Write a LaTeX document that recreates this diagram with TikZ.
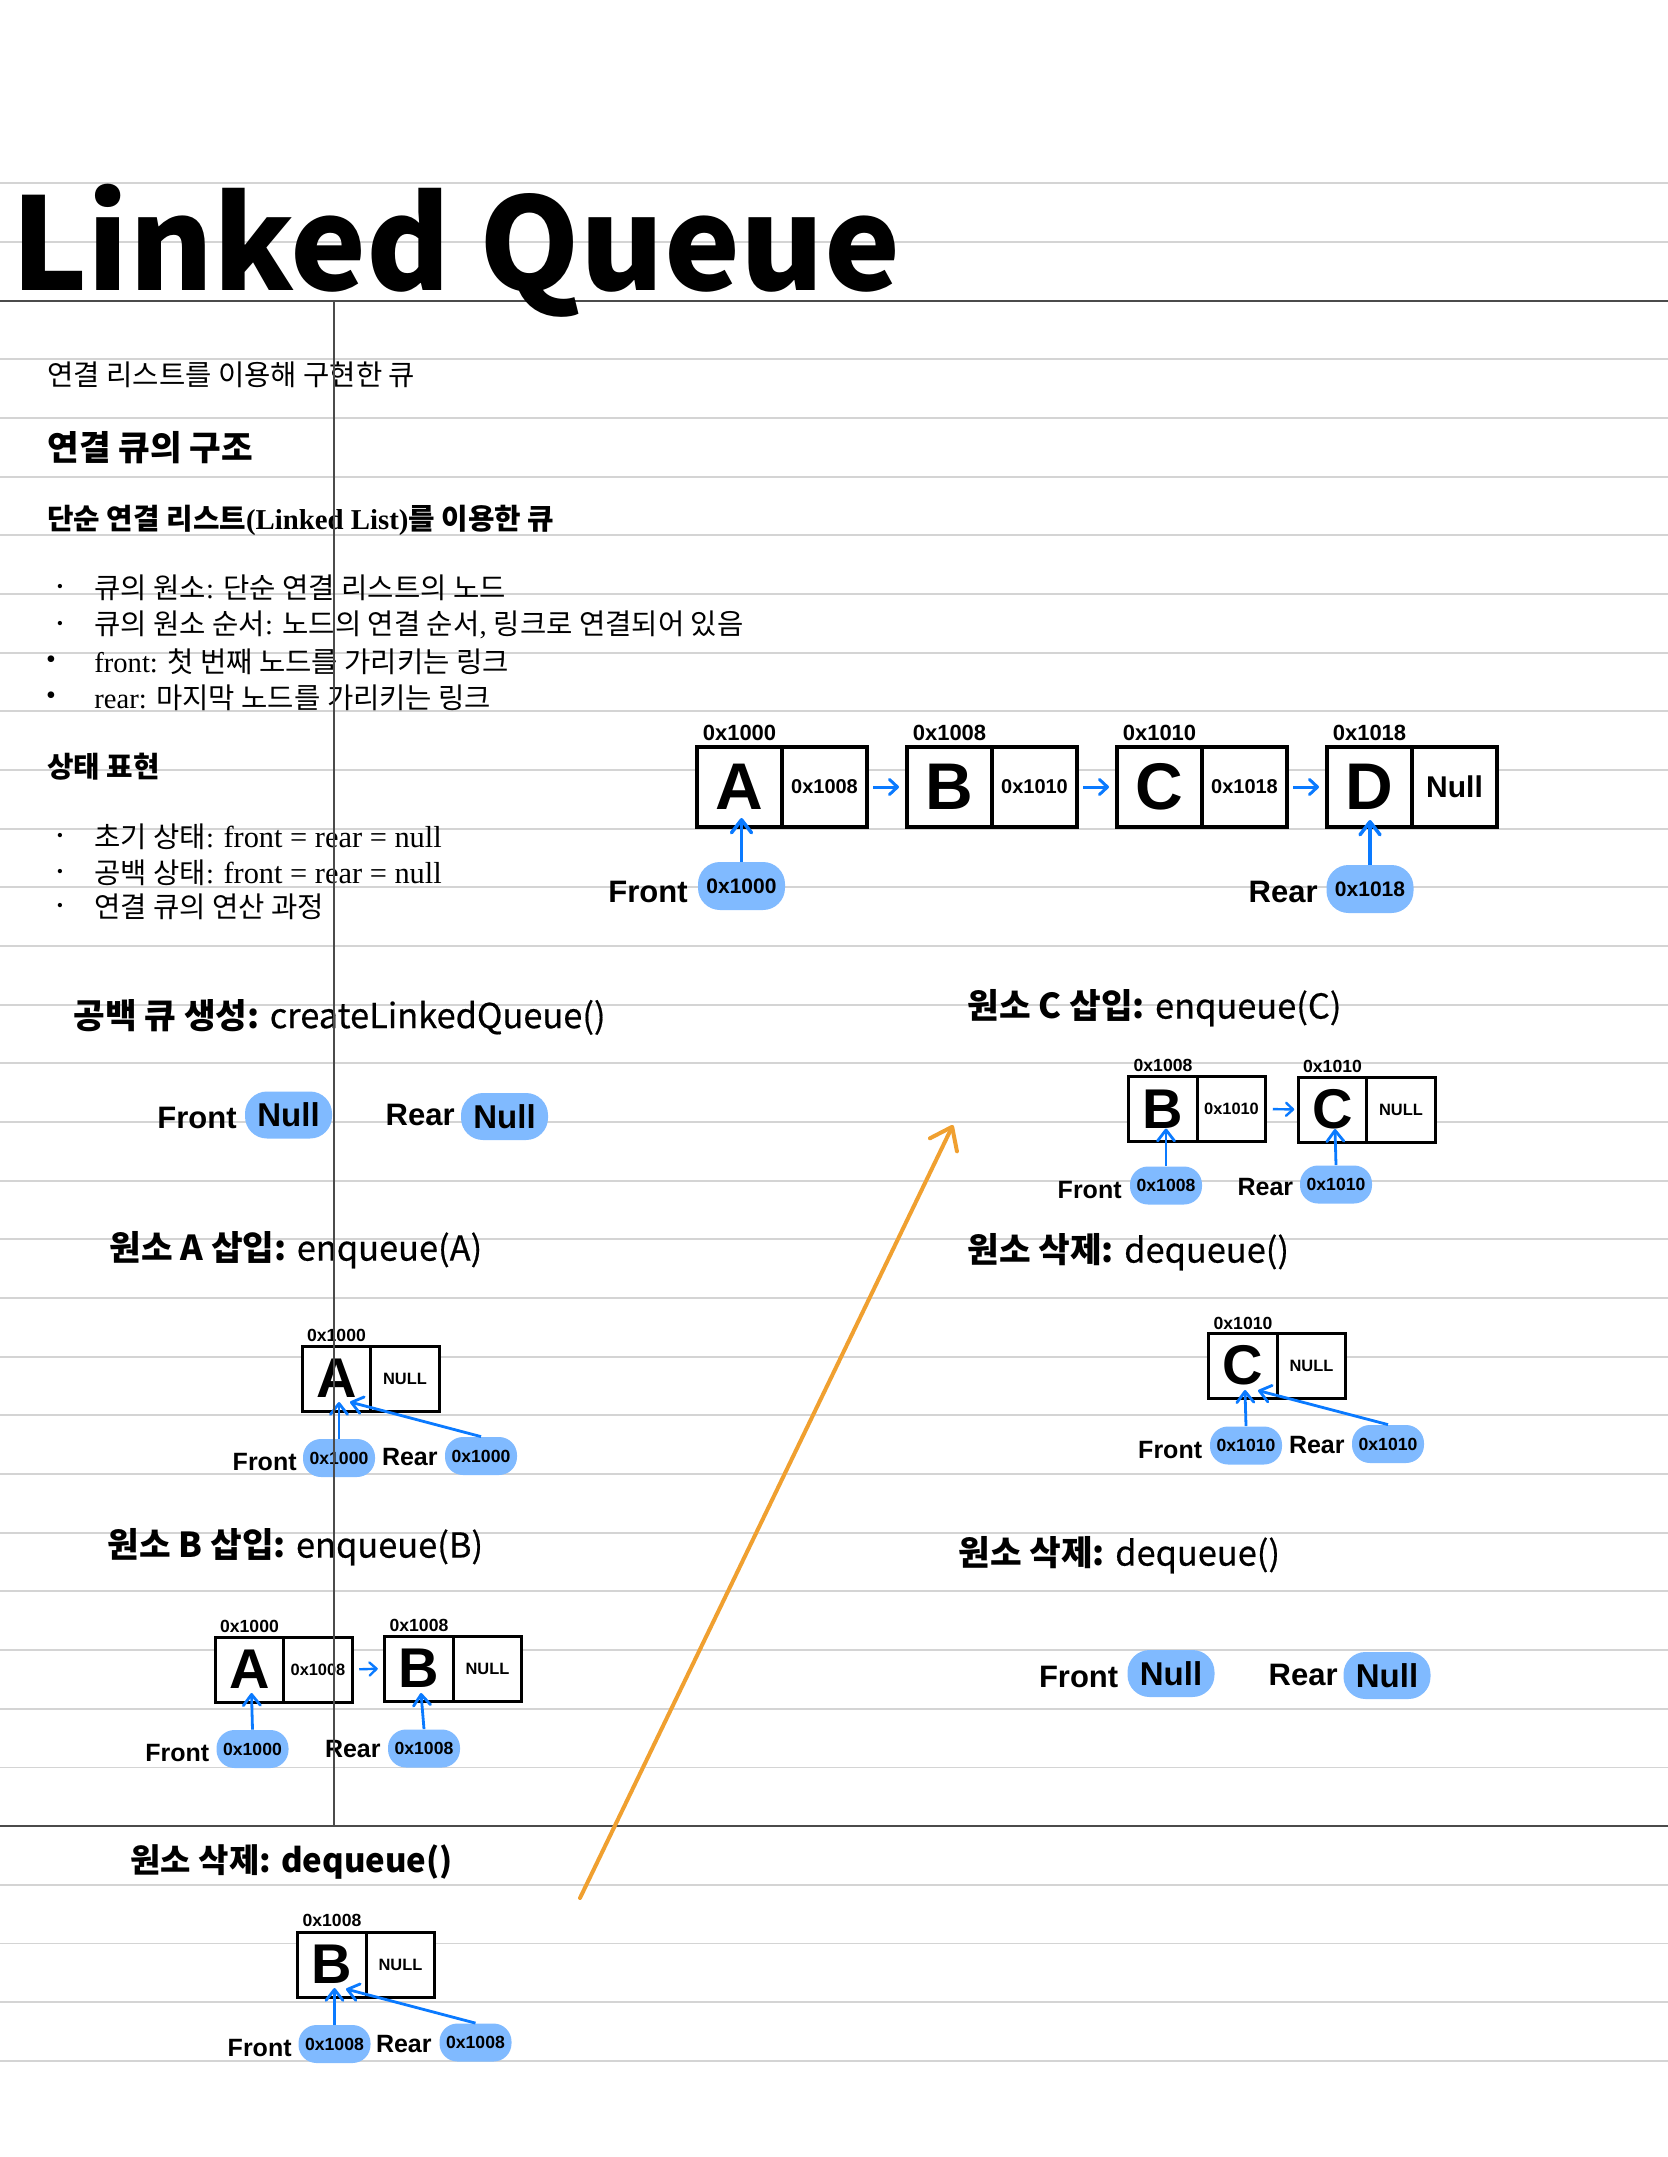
\documentclass[tikz,border=0pt]{standalone}
\usepackage{fontspec}
\setmainfont{Liberation Serif}
\newfontfamily\kr{Noto Sans CJK KR}
\newfontfamily\krm{Noto Sans CJK KR}[FakeBold=0.5]
\newfontfamily\hv{Liberation Sans}
\usetikzlibrary{arrows.meta,calc}
\definecolor{lgray}{RGB}{212,212,212}
\definecolor{dgray}{RGB}{75,75,75}
\definecolor{qblue}{RGB}{10,122,255}
\definecolor{pillblue}{RGB}{128,186,255}
\definecolor{qorange}{RGB}{240,160,48}
\tikzset{
 lrule/.style={draw=lgray, line width=0.9pt},
 drule/.style={draw=dgray, line width=1pt},
 cellM/.style={draw, fill=white, line width=2pt, minimum width=42.5pt, minimum height=40pt, inner sep=0pt, outer sep=0pt},
 cellS/.style={draw, fill=white, line width=1.5pt, minimum width=34.25pt, minimum height=32.5pt, inner sep=0pt, outer sep=0pt},
 letM/.style={cellM, font=\hv\bfseries\fontsize{33}{33}\selectfont},
 letS/.style={cellS, font=\hv\bfseries\fontsize{28}{28}\selectfont},
 ptrM/.style={cellM, anchor=west, font=\hv\bfseries\fontsize{10}{10}\selectfont},
 ptrS/.style={cellS, anchor=west, font=\hv\bfseries\fontsize{8.2}{8.2}\selectfont},
 addrM/.style={font=\hv\bfseries\fontsize{11}{11}\selectfont, inner sep=0pt, anchor=base},
 addrS/.style={font=\hv\bfseries\fontsize{8.8}{8.8}\selectfont, inner sep=0pt, anchor=base},
 pillM/.style={fill=pillblue, rounded corners=11pt, minimum width=43.5pt, minimum height=24pt, inner sep=0pt, font=\hv\bfseries\fontsize{10.5}{10.5}\selectfont},
 pillS/.style={fill=pillblue, rounded corners=9pt, minimum width=36pt, minimum height=19pt, inner sep=0pt, font=\hv\bfseries\fontsize{8.8}{8.8}\selectfont},
 pillN/.style={fill=pillblue, rounded corners=11pt, minimum width=43.5pt, minimum height=23.5pt, inner sep=0pt, font=\hv\bfseries\fontsize{16.5}{16.5}\selectfont},
 lblM/.style={font=\hv\bfseries\fontsize{15.5}{15.5}\selectfont, inner sep=0pt, anchor=east},
 lblS/.style={font=\hv\bfseries\fontsize{12.5}{12.5}\selectfont, inner sep=0pt, anchor=east},
 barrM/.style={draw=qblue, line width=1.75pt, -{Straight Barb[length=6.5pt,width=10pt,round]}},
 barrS/.style={draw=qblue, line width=1.4pt, -{Straight Barb[length=5.5pt,width=8.5pt,round]}},
 linkM/.style={draw=qblue, line width=1.5pt, -{Straight Barb[length=4pt,width=7.5pt,round]}},
 linkS/.style={draw=qblue, line width=1.2pt, -{Straight Barb[length=3.5pt,width=6.5pt,round]}},
 orarr/.style={draw=qorange, line width=2pt, line cap=round, -{Straight Barb[length=10pt,width=15pt,round]}},
 txt/.style={anchor=west, inner sep=0pt, font=\fontsize{14.3}{16}\selectfont},
 txtb/.style={anchor=west, inner sep=0pt, font=\kr\bfseries\fontsize{17.2}{20}\selectfont},
 txtc/.style={anchor=west, inner sep=0pt, font=\fontsize{14.4}{16}\selectfont},
 hd/.style={anchor=west, inner sep=0pt, font=\krm\fontsize{17.2}{20}\selectfont},
 bsm/.style={inner sep=0pt, font=\fontsize{9}{9}\selectfont},
 blg/.style={inner sep=0pt, font=\fontsize{14}{14}\selectfont},
}
\begin{document}
\begin{tikzpicture}[x=0.5pt,y=-0.5pt]
\useasboundingbox (0,0) rectangle (1668,2157);
\fill[white] (0,0) rectangle (1668,2157);
\foreach \k in {0,...,32}{\draw[lrule] (0,{183.3+\k*58.67}) -- (1668,{183.3+\k*58.67});}
\draw[drule] (0,301) -- (1668,301);
\draw[drule] (0,1826) -- (1668,1826);

% title
\node[anchor=base west, inner sep=0pt, font=\kr\bfseries\fontsize{64}{64}\selectfont] (title) at (11,290) {Linked Queue};

% intro text
\node[txt] (t1) at (47,375) {\kr 연결 리스트를 이용해 구현한 큐};
\node[txtb] (t2) at (47,448) {연결 큐의 구조};
\node[txtc] (t3) at (47,520) {{\kr\bfseries 단순 연결 리스트}\textbf{(Linked List)}{\kr\bfseries 를 이용한 큐}};
\node[bsm] (b1) at (60,588) {•};
\node[bsm] (b2) at (60,625) {•};
\node[blg] (b3) at (51,662) {•};
\node[blg] (b4) at (51,698) {•};
\node[txt] (l1) at (94,588) {{\kr 큐의 원소}: {\kr 단순 연결 리스트의 노드}};
\node[txt] (l2) at (94,625) {{\kr 큐의 원소 순서}: {\kr 노드의 연결 순서}, {\kr 링크로 연결되어 있음}};
\node[txt] (l3) at (94,662) {front: {\kr 첫 번째 노드를 가리키는 링크}};
\node[txt] (l4) at (94,698) {rear: {\kr 마지막 노드를 가리키는 링크}};
\node[txtc] (t4) at (47,767) {\kr\bfseries 상태 표현};
\node[bsm] (b5) at (60,837) {•};
\node[bsm] (b6) at (60,873) {•};
\node[bsm] (b7) at (60,907) {•};
\node[txt] (l5) at (94,837) {{\kr 초기 상태}: {\fontsize{15.2}{16}\selectfont front = rear = null}};
\node[txt] (l6) at (94,873) {{\kr 공백 상태}: {\fontsize{15.2}{16}\selectfont front = rear = null}};
\node[txt] (l7) at (94,907) {\kr 연결 큐의 연산 과정};

% headings
\node[hd] (h1) at (73,1017) {{\kr\bfseries 공백 큐 생성:} createLinkedQueue()};
\node[hd] (h2) at (109,1250) {{\kr\bfseries 원소 A 삽입:} enqueue(A)};
\node[hd] (h3) at (107,1547) {{\kr\bfseries 원소 B 삽입:} enqueue(B)};
\node[hd, font=\kr\bfseries\fontsize{16.5}{20}\selectfont] (h4) at (130,1862) {원소 삭제: dequeue()};
\node[hd] (h5) at (967,1008) {{\kr\bfseries 원소 C 삽입:} enqueue(C)};
\node[hd] (h6) at (967,1252) {{\kr\bfseries 원소 삭제:} dequeue()};
\node[hd] (h7) at (958,1555) {{\kr\bfseries 원소 삭제:} dequeue()};

% main diagram
\node[letM] (mA) at (739.5,787) {A};
\node[ptrM] (mAp) at (mA.east) {0x1008};
\node[addrM] (mAa) at ($(mA.north)+(0,-7)$) {0x1000};
\node[letM] (mB) at (949.5,787) {B};
\node[ptrM] (mBp) at (mB.east) {0x1010};
\node[addrM] (mBa) at ($(mB.north)+(0,-7)$) {0x1008};
\node[letM] (mC) at (1159.5,787) {C};
\node[ptrM] (mCp) at (mC.east) {0x1018};
\node[addrM] (mCa) at ($(mC.north)+(0,-7)$) {0x1010};
\node[letM] (mD) at (1369.5,787) {D};
\node[ptrM, font=\hv\bfseries\fontsize{15}{15}\selectfont] (mDp) at (mD.east) {Null};
\node[addrM] (mDa) at ($(mD.north)+(0,-7)$) {0x1018};
\draw[linkM, shorten <=3pt, shorten >=4pt] (mAp.east) -- (mB.west);
\draw[linkM, shorten <=3pt, shorten >=4pt] (mBp.east) -- (mC.west);
\draw[linkM, shorten <=3pt, shorten >=4pt] (mCp.east) -- (mD.west);
\node[pillM] (mF) at (741.5,886) {0x1000};
\node[lblM] (mFl) at (688,892) {Front};
\node[pillM] (mR) at (1370,889) {0x1018};
\node[lblM] (mRl) at (1318,892) {Rear};
\draw[barrM] (mF.north) -- ($(mA.south)+(2,-9)$);
\draw[barrM] (mR.north) -- ($(mD.south)+(0.5,-7)$);

% empty queue
\node[pillN] (nF) at (288.5,1115) {Null};
\node[lblM] (nFl) at (237,1118) {Front};
\node[pillN] (nR) at (504.5,1116.5) {Null};
\node[lblM] (nRl) at (455,1115) {Rear};

% enqueue A
\node[letS] (aA) at (336.5,1378.5) {A};
\node[ptrS] (aAp) at (aA.east) {NULL};
\node[addrS] (aAa) at ($(aA.north)+(0,-5)$) {0x1000};
\node[pillS] (aF) at (339,1458) {0x1000};
\node[lblS] (aFl) at (297,1462) {Front};
\node[pillS] (aR) at (481,1456) {0x1000};
\node[lblS] (aRl) at (438,1457) {Rear};
\draw[barrS] (aF.north) -- ($(aA.south)+(2.5,-9)$);
\draw[barrS] (aR.north) -- ($(aA.south)+(13.5,-9)$);

% enqueue B
\node[letS] (bA) at (249.5,1669.5) {A};
\node[ptrS] (bAp) at (bA.east) {0x1008};
\node[addrS] (bAa) at ($(bA.north)+(0,-5)$) {0x1000};
\node[letS] (bB) at (419,1668.5) {B};
\node[ptrS] (bBp) at (bB.east) {NULL};
\node[addrS] (bBa) at ($(bB.north)+(0,-5)$) {0x1008};
\draw[linkS, shorten <=3.5pt, shorten >=3.5pt] (bAp.east) -- (bB.west);
\node[pillS] (bF) at (252.5,1749) {0x1000};
\node[lblS] (bFl) at (209.7,1753) {Front};
\node[pillS] (bR) at (424,1748.5) {0x1008};
\node[lblS] (bRl) at (381,1749) {Rear};
\draw[barrS] (bF.north) -- ($(bA.south)+(2,-9)$);
\draw[barrS] (bR.north) -- ($(bB.south)+(2,-8)$);

% dequeue (left bottom)
\node[letS] (dB) at (332,1964.5) {B};
\node[ptrS] (dBp) at (dB.east) {NULL};
\node[addrS] (dBa) at ($(dB.north)+(0,-6)$) {0x1008};
\node[pillS] (dF) at (334.5,2044) {0x1008};
\node[lblS] (dFl) at (292,2048) {Front};
\node[pillS] (dR) at (475.5,2042.5) {0x1008};
\node[lblS] (dRl) at (432,2044) {Rear};
\draw[barrS] (dF.north) -- ($(dB.south)+(2.5,-9)$);
\draw[barrS] (dR.north) -- ($(dB.south)+(14,-8)$);

% enqueue C
\node[letS] (cB) at (1163,1109) {B};
\node[ptrS] (cBp) at (cB.east) {0x1010};
\node[addrS] (cBa) at ($(cB.north)+(0,-5)$) {0x1008};
\node[letS] (cC) at (1332.5,1109.5) {C};
\node[ptrS] (cCp) at (cC.east) {NULL};
\node[addrS] (cCa) at ($(cC.north)+(0,-5)$) {0x1010};
\draw[linkS, shorten <=3.5pt, shorten >=2pt] (cBp.east) -- (cC.west);
\node[pillS] (cF) at (1166,1185.5) {0x1008};
\node[lblS] (cFl) at (1122,1190) {Front};
\node[pillS] (cR) at (1336,1184.5) {0x1010};
\node[lblS] (cRl) at (1293.6,1187) {Rear};
\draw[barrS] (cF.north) -- ($(cB.south)+(3,-13)$);
\draw[barrS] (cR.north) -- ($(cC.south)+(2.5,-13)$);

% dequeue C
\node[letS] (eC) at (1243,1365.5) {C};
\node[ptrS] (eCp) at (eC.east) {NULL};
\node[addrS] (eCa) at ($(eC.north)+(0,-4)$) {0x1010};
\node[pillS] (eF) at (1246,1445.5) {0x1010};
\node[lblS] (eFl) at (1202.5,1450) {Front};
\node[pillS] (eR) at (1388,1444) {0x1010};
\node[lblS] (eRl) at (1345,1445) {Rear};
\draw[barrS] (eF.north) -- ($(eC.south)+(2,-8)$);
\draw[barrS] (eR.north) -- ($(eC.south)+(15,-7.5)$);

% dequeue -> empty
\node[pillN] (gF) at (1171,1673.5) {Null};
\node[lblM] (gFl) at (1118.6,1677) {Front};
\node[pillN] (gR) at (1387,1675.5) {Null};
\node[lblM] (gRl) at (1338,1675) {Rear};

% orange arrow
\coordinate (o1) at (580,1898);
\coordinate (o2) at (953,1125);
\draw[orarr] (o1) -- (o2);

% vertical margin line
\draw[draw=dgray, line width=1pt] (334,301) -- (334,1826);
\end{tikzpicture}
\end{document}
